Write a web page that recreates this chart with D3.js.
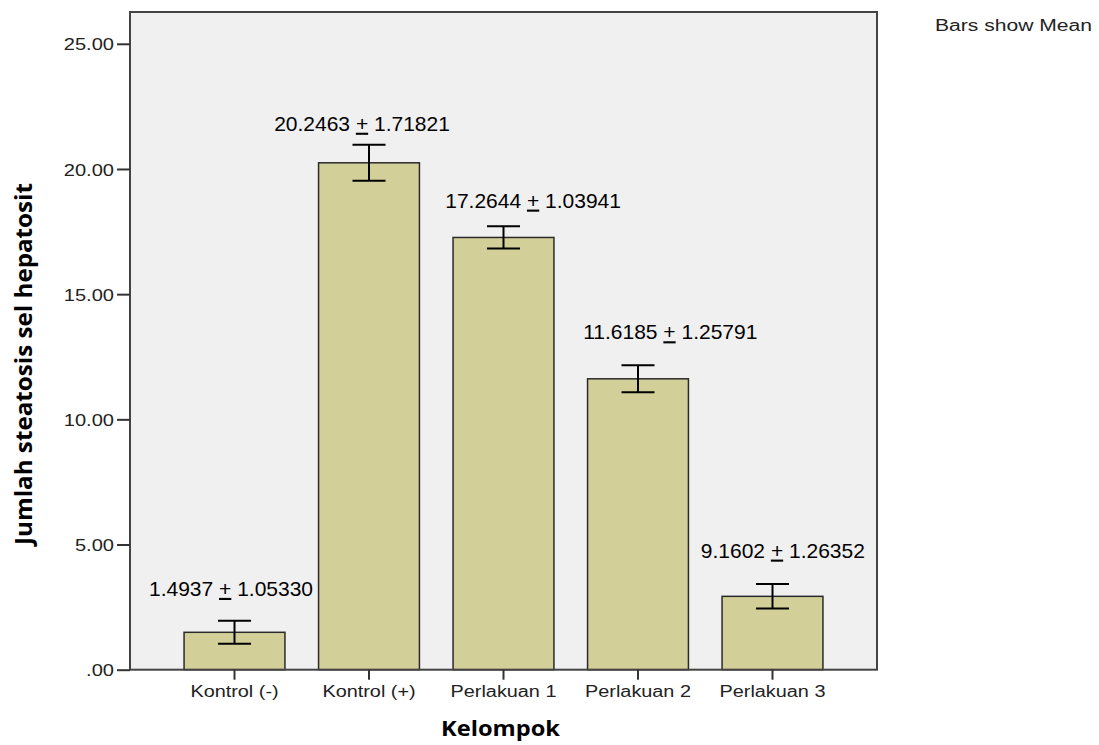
<!DOCTYPE html>
<html>
<head>
<meta charset="utf-8">
<script src="https://cdn.jsdelivr.net/npm/d3@7"></script>
<style>
  html, body { margin: 0; padding: 0; background: #fff; }
  svg { display: block; }
</style>
</head>
<body>
<svg id="chart" width="1099" height="745"></svg>
<script>
// ---- data ----
const categories = ["Kontrol (-)", "Kontrol (+)", "Perlakuan 1", "Perlakuan 2", "Perlakuan 3"];
const means      = [1.4937, 20.2463, 17.2644, 11.6185, 2.93];
const errors     = [0.46, 0.72, 0.445, 0.54, 0.49];
const labelMean  = ["1.4937", "20.2463", "17.2644", "11.6185", "9.1602"];
const labelSD    = ["1.05330", "1.71821", "1.03941", "1.25791", "1.26352"];
const yTicks     = [0, 5, 10, 15, 20, 25];
const yTickLabels = [".00", "5.00", "10.00", "15.00", "20.00", "25.00"];
// annotation anchors (value units / band-step units)
const labelY     = [3.25, 21.83, 18.76, 13.5, 4.78];
const labelDx    = [-0.026, -0.052, 0.22, 0.24, 0.077];

// ---- layout ----
const svg = d3.select("#chart");
const frame = { left: 130, right: 877, top: 12, bottom: 669.7 };
const yMax = 26.27;

const x = d3.scaleBand().domain(categories)
  .range([frame.left, frame.right]).paddingInner(0.25).paddingOuter(0.402);
const y = d3.scaleLinear().domain([0, yMax]).range([frame.bottom, frame.top]);

// plot background
svg.append("rect")
  .attr("x", frame.left).attr("y", frame.top)
  .attr("width", frame.right - frame.left).attr("height", frame.bottom - frame.top)
  .attr("fill", "#f0f0f0").attr("stroke", "none");

// bars
svg.append("g").selectAll("rect").data(categories).join("rect")
  .attr("x", d => x(d))
  .attr("y", (d, i) => y(means[i]))
  .attr("width", x.bandwidth())
  .attr("height", (d, i) => y(0) - y(means[i]))
  .attr("fill", "#d3cf98")
  .attr("stroke", "#2a2a2a").attr("stroke-width", 1.5);

// error bars
const capW = 16.5;
const eg = svg.append("g").attr("stroke", "#000").attr("stroke-width", 2).attr("fill", "none");
categories.forEach((c, i) => {
  const cx = x(c) + x.bandwidth() / 2;
  const hi = y(means[i] + errors[i]), lo = y(means[i] - errors[i]);
  eg.append("line").attr("x1", cx).attr("x2", cx).attr("y1", hi).attr("y2", lo);
  eg.append("line").attr("x1", cx - capW).attr("x2", cx + capW).attr("y1", hi).attr("y2", hi);
  eg.append("line").attr("x1", cx - capW).attr("x2", cx + capW).attr("y1", lo).attr("y2", lo);
});

// frame border
svg.append("rect")
  .attr("x", frame.left).attr("y", frame.top)
  .attr("width", frame.right - frame.left).attr("height", frame.bottom - frame.top)
  .attr("fill", "none").attr("stroke", "#444").attr("stroke-width", 2);

// stretch helper (axis text is horizontally wide in the reference)
function stretch(sel, k) {
  sel.each(function () {
    const w = this.getComputedTextLength();
    d3.select(this).attr("textLength", w * k).attr("lengthAdjust", "spacingAndGlyphs");
  });
}

// y axis
const yAxis = svg.append("g")
  .attr("transform", `translate(${frame.left},0)`)
  .call(d3.axisLeft(y).tickValues(yTicks).tickSize(13).tickPadding(3)
    .tickFormat((d, i) => yTickLabels[i]));
yAxis.select(".domain").remove();
yAxis.selectAll(".tick line").attr("stroke", "#333").attr("stroke-width", 2);
yAxis.selectAll(".tick text")
  .attr("font-family", "'Liberation Sans', Arial, sans-serif")
  .attr("font-size", 17).attr("fill", "#222").attr("dy", "0.36em");
stretch(yAxis.selectAll(".tick text"), 1.18);

// x axis
const xAxis = svg.append("g")
  .attr("transform", `translate(0,${frame.bottom})`)
  .call(d3.axisBottom(x).tickSize(10).tickPadding(6));
xAxis.select(".domain").remove();
xAxis.selectAll(".tick line").attr("stroke", "#333").attr("stroke-width", 2);
xAxis.selectAll(".tick text")
  .attr("font-family", "'Liberation Sans', Arial, sans-serif")
  .attr("font-size", 16).attr("fill", "#222");
stretch(xAxis.selectAll(".tick text"), 1.24);

// value labels
const lg = svg.append("g")
  .attr("font-family", "'Liberation Sans', Arial, sans-serif")
  .attr("font-size", 21).attr("fill", "#000").attr("text-anchor", "middle");
categories.forEach((c, i) => {
  const cx = x(c) + x.bandwidth() / 2 + labelDx[i] * x.step();
  const t = lg.append("text").attr("x", cx).attr("y", y(labelY[i])).attr("dy", "0.36em");
  t.append("tspan").text(labelMean[i] + " ");
  t.append("tspan").attr("text-decoration", "underline").text("+");
  t.append("tspan").text(" " + labelSD[i]);
});

// axis titles
svg.append("text")
  .attr("x", 500.5).attr("y", 736)
  .attr("text-anchor", "middle")
  .attr("font-family", "'Open Sans', sans-serif").attr("font-weight", 700)
  .attr("font-size", 22).attr("fill", "#000")
  .attr("textLength", 119).attr("lengthAdjust", "spacingAndGlyphs")
  .text("Kelompok");

svg.append("text")
  .attr("transform", "translate(32,364) rotate(-90)")
  .attr("text-anchor", "middle")
  .attr("font-family", "'Open Sans', sans-serif").attr("font-weight", 700)
  .attr("font-size", 23).attr("fill", "#000")
  .attr("textLength", 362).attr("lengthAdjust", "spacingAndGlyphs")
  .text("Jumlah steatosis sel hepatosit");

// note
svg.append("text")
  .attr("x", 935).attr("y", 31)
  .attr("font-family", "'Liberation Sans', Arial, sans-serif")
  .attr("font-size", 16).attr("fill", "#222")
  .attr("textLength", 157).attr("lengthAdjust", "spacingAndGlyphs")
  .text("Bars show Mean");
</script>
</body>
</html>
